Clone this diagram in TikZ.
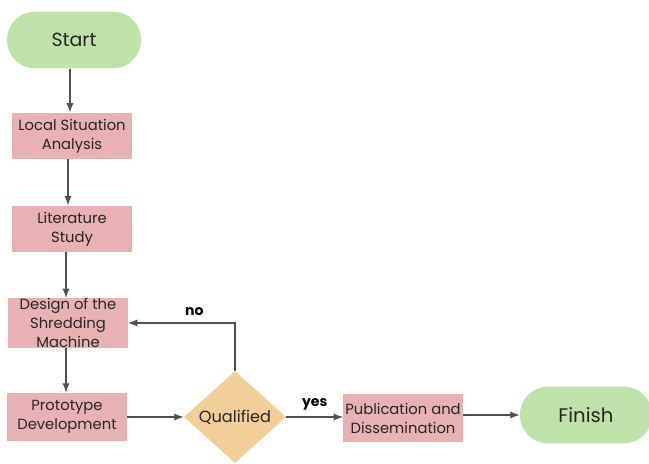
\documentclass[tikz,border=0pt]{standalone}
\usepackage{fontspec}
\setmainfont{Poppins}
\usetikzlibrary{positioning, calc, shapes.geometric}
\definecolor{stepred}{RGB}{232,178,180}
\definecolor{termgreen}{RGB}{190,226,170}
\definecolor{decidetan}{RGB}{242,206,152}
\definecolor{flowgray}{RGB}{80,80,80}
\begin{document}
\begin{tikzpicture}[
    term/.style={rectangle, rounded corners=7mm, fill=termgreen, minimum width=3.35cm, minimum height=1.42cm, font=\fontsize{13.5}{15}\selectfont, text=black!85},
    task/.style={rectangle, fill=stepred, minimum width=2.98cm, minimum height=1.16cm, align=center, inner sep=0pt, font=\fontsize{10.5}{13.5}\selectfont, text=black!85},
    decide/.style={diamond, fill=decidetan, minimum width=2.55cm, minimum height=2.3cm, inner sep=0pt, font=\fontsize{11.5}{13}\selectfont, text=black!85},
    flow/.style={->, >=latex, flowgray, line width=1.3pt},
    tag/.style={font=\fontsize{10}{12}\bfseries\selectfont, text=black}]
    \useasboundingbox (0,0) rectangle (16.225,-11.575);
    \node[term] (start) at (1.85,-1.0) {Start};
    \node[task] (local) at (1.8,-3.4) {Local Situation\\Analysis};
    \node[task] (lit) at (1.8,-5.725) {Literature\\Study};
    \node[task, minimum height=1.2cm] (design) at (1.7,-8.075) {Design of the\\Shredding\\Machine};
    \node[task, minimum height=1.2cm] (proto) at (1.675,-10.425) {Prototype\\Development};
    \node[decide] (qual) at (5.875,-10.425) {Qualified};
    \node[task, minimum height=1.2cm] (pub) at (10.075,-10.45) {Publication and\\Dissemination};
    \node[term, minimum width=3.3cm, font=\fontsize{14}{16}\selectfont] (finish) at (14.65,-10.375) {Finish};
    \draw[flow] ([xshift=-1mm]start.south) -- ([xshift=-1mm]start.south |- local.north);
    \draw[flow] ([xshift=-1mm]local.south) -- ([xshift=-1mm]local.south |- lit.north);
    \draw[flow] ([xshift=-1.5mm]lit.south) -- ([xshift=-1.5mm]lit.south |- design.north);
    \draw[flow] ([xshift=-0.5mm]design.south) -- ([xshift=-0.5mm]design.south |- proto.north);
    \draw[flow] (proto) -- (qual);
    \draw[flow] (qual.north) |- (design.east) node[tag, pos=0.69, above=1pt] {no};
    \draw[flow] (qual.east) -- (pub.west |- qual.east) node[tag, midway, above=1pt] {yes};
    \draw[flow] (pub.east |- finish) -- (finish);
\end{tikzpicture}
\end{document}
